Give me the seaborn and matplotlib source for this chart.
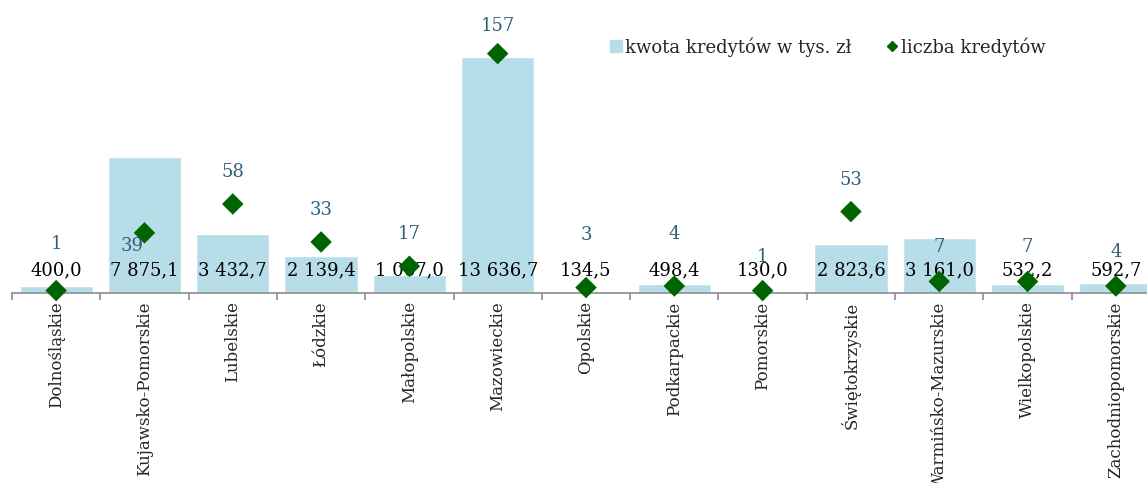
import matplotlib
matplotlib.use("Agg")
import matplotlib.pyplot as plt
from matplotlib.lines import Line2D
import seaborn as sns
import pandas as pd

# Voivodeships and their loan figures
regions = ["Dolnośląskie", "Kujawsko-Pomorskie", "Lubelskie", "Łódzkie", "Małopolskie",
           "Mazowieckie", "Opolskie", "Podkarpackie", "Pomorskie", "Świętokrzyskie",
           "Warmińsko-Mazurskie", "Wielkopolskie", "Zachodniopomorskie"]
amount_k_pln = [400.0, 7875.1, 3432.7, 2139.4, 1067.0, 13636.7, 134.5, 498.4, 130.0,
                2823.6, 3161.0, 532.2, 592.7]
loan_count = [1, 39, 58, 33, 17, 157, 3, 4, 1, 53, 7, 7, 4]

# Hand-placed count-label offsets (pixels, relative to each diamond)
count_label_dx = [0, -12, 0, 0, 0, 0, 0, 0, 0, 0, 0, 0, 0]
count_label_dy = [47, -13, 32, 32, 32, 28, 53, 52, 34, 32, 34, 34, 34]

BAR_COLOR = "#B7DEE8"
DIAMOND_COLOR = "#006400"
COUNT_TEXT = "#31607A"

df = pd.DataFrame({"region": regions, "amount": amount_k_pln, "count": loan_count})

sns.set_theme(style="white")
plt.rcParams["font.family"] = ["DejaVu Serif", "DejaVu Sans"]

W, H = 1147, 483
fig = plt.figure(figsize=(W / 100, H / 100), dpi=100)
ax = fig.add_axes([12 / W, 190 / H, 1148 / W, 293 / H])

sns.barplot(data=df, x="region", y="amount", color=BAR_COLOR, width=0.83,
            saturation=1, ax=ax)
ax.set_xlim(-0.5, len(regions) - 0.5)
ax.set_ylim(0, 16930)
ax.set_xlabel("")
ax.set_ylabel("")
ax.set_yticks([])
for s in ["top", "right", "left"]:
    ax.spines[s].set_visible(False)
ax.spines["bottom"].set_color("#8C8C8C")
ax.spines["bottom"].set_linewidth(1.2)

# Category boundary ticks
ax.set_xticks([i - 0.5 for i in range(len(regions) + 1)], minor=True)
ax.tick_params(axis="x", which="minor", bottom=True, length=5, width=1.2, color="#8C8C8C")
ax.tick_params(axis="x", which="major", bottom=False, length=0, pad=6)
ax.set_xticks(range(len(regions)))
ax.set_xticklabels(regions, rotation=90, fontsize=12, va="top", ha="center")

# Amount labels sit on one common line near the base
for i, v in enumerate(amount_k_pln):
    txt = f"{v:,.1f}".replace(",", " ").replace(".", ",")
    ax.text(i, 23 / 293, txt, transform=ax.get_xaxis_transform(), ha="center",
            va="center", fontsize=13, color="black", zorder=5)

# Loan counts on a secondary axis
ax2 = ax.twinx()
sns.scatterplot(data=df, x="region", y="count", marker="D", s=120, color=DIAMOND_COLOR,
                edgecolor="none", ax=ax2, zorder=4, clip_on=False)
ax2.set_ylim(-0.6, 192.3)
ax2.set_yticks([])
ax2.set_ylabel("")
for s in ["top", "right", "left", "bottom"]:
    ax2.spines[s].set_visible(False)

for i, c in enumerate(loan_count):
    ax2.annotate(str(c), (i, c), xytext=(count_label_dx[i] * 0.72, count_label_dy[i] * 0.72),
                 textcoords="offset points", ha="center", va="center", fontsize=13,
                 color=COUNT_TEXT, zorder=6)

handles = [
    Line2D([], [], marker="s", linestyle="none", markersize=8, color=BAR_COLOR),
    Line2D([], [], marker="D", linestyle="none", markersize=5.5, color=DIAMOND_COLOR),
]
fig.legend(handles, ["kwota kredytów w tys. zł", "liczba kredytów"], ncol=2,
           loc="center", bbox_to_anchor=(828 / W, 1 - 47 / H), frameon=False,
           fontsize=13, handlelength=0.7, handletextpad=0.15, columnspacing=1.9)

fig.savefig("out.png", dpi=100)
